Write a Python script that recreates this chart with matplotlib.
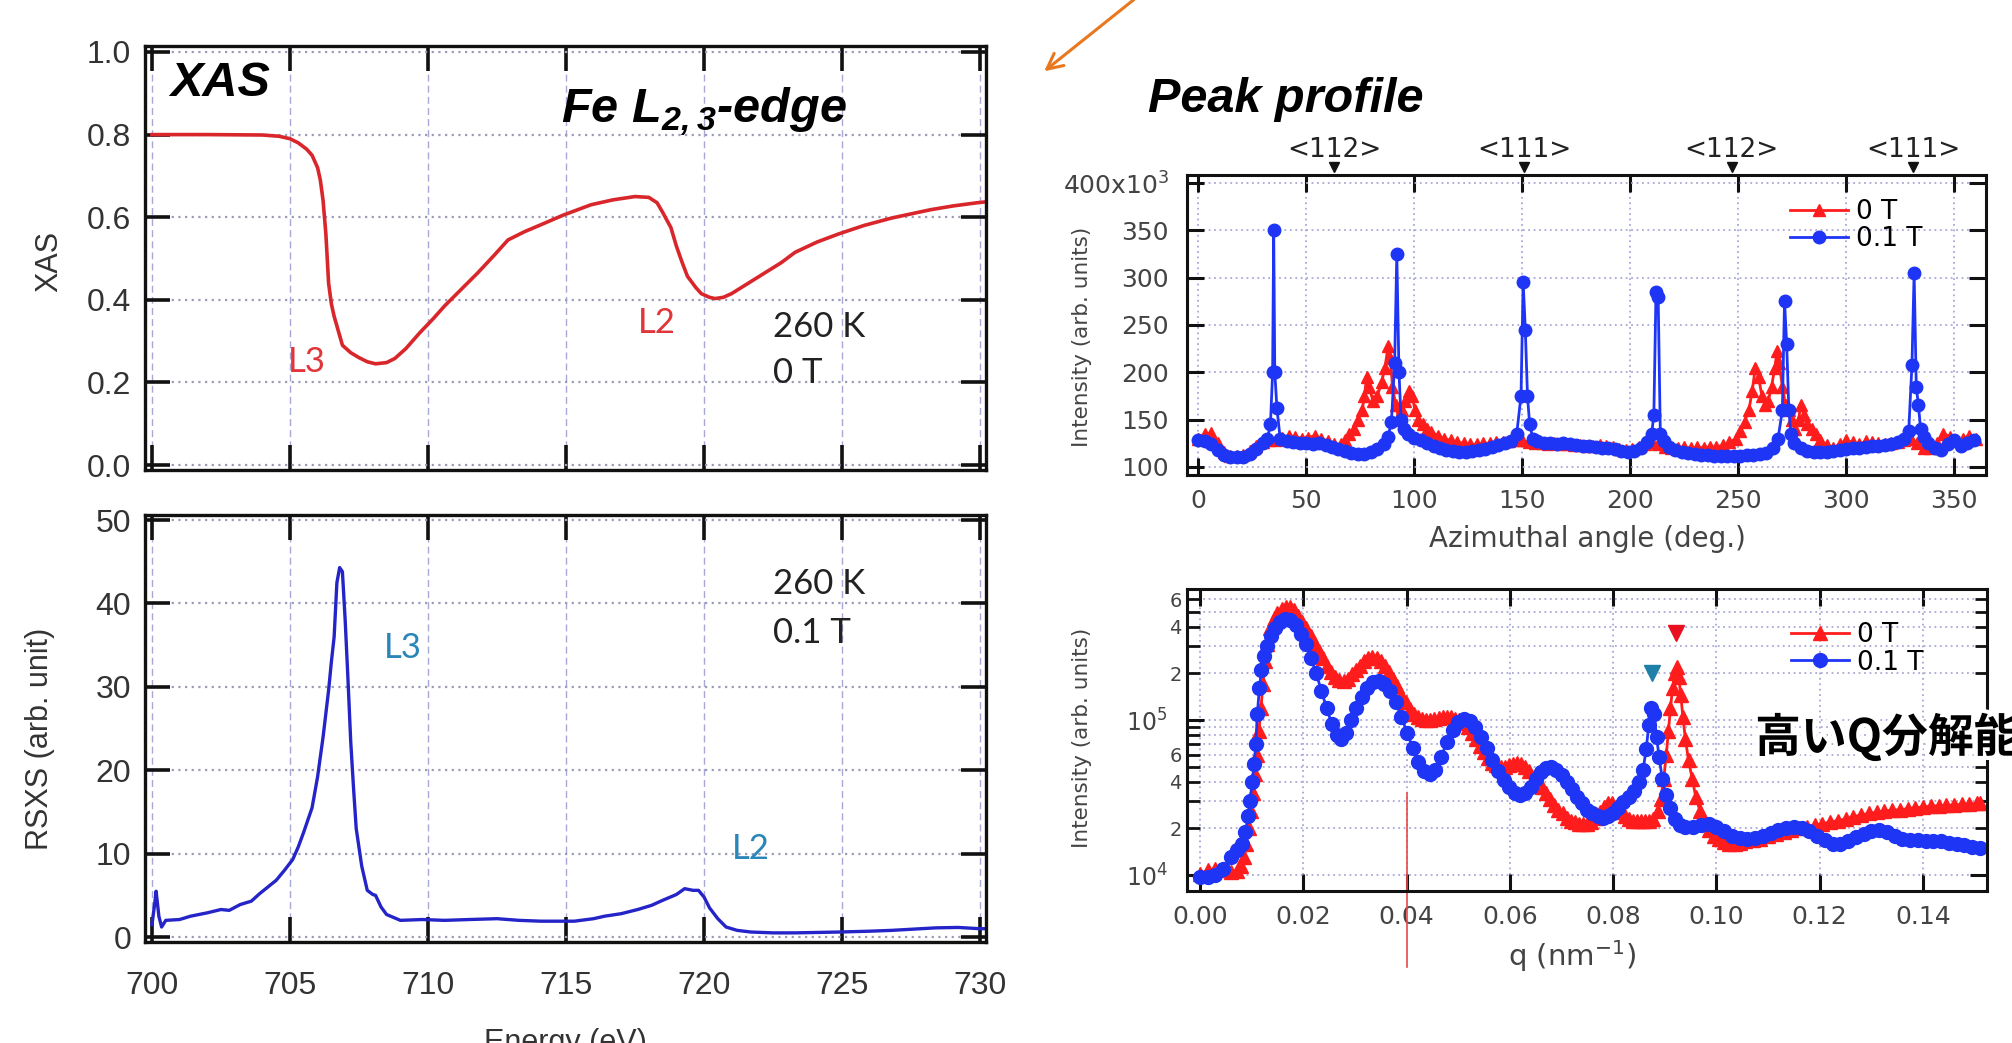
import matplotlib
matplotlib.use("Agg")
import matplotlib.pyplot as plt
import matplotlib.patheffects as pe
from matplotlib.ticker import FixedLocator, FixedFormatter

# ---------------- data ----------------
# XAS, Fe L2,3-edge, 260 K, 0 T
xas_energy = [700.0, 702.0, 704.0, 704.6, 705.0, 705.3, 705.6, 705.8, 706.0, 706.1, 706.2,
              706.3, 706.4, 706.5, 706.6, 706.9, 707.2, 707.5, 707.8, 708.1, 708.5, 708.8,
              709.2, 709.7, 710.2, 710.6, 711.2, 711.8, 712.4, 712.9, 713.5, 714.1, 714.9,
              715.9, 716.7, 717.5, 718.0, 718.3, 718.5, 718.8, 719.0, 719.2, 719.4, 719.7,
              719.9, 720.2, 720.4, 720.7, 721.0, 721.6, 722.2, 722.8, 723.3, 724.1, 724.9,
              725.8, 726.8, 727.5, 728.2, 729.0, 729.9, 730.2]
xas_value = [0.800, 0.800, 0.799, 0.796, 0.790, 0.780, 0.765, 0.750, 0.720, 0.690, 0.640,
             0.560, 0.440, 0.390, 0.360, 0.290, 0.272, 0.260, 0.250, 0.245, 0.248, 0.258,
             0.282, 0.320, 0.355, 0.385, 0.425, 0.465, 0.508, 0.545, 0.565, 0.582, 0.605,
             0.630, 0.642, 0.650, 0.648, 0.635, 0.612, 0.575, 0.530, 0.492, 0.457, 0.430,
             0.415, 0.406, 0.403, 0.406, 0.415, 0.440, 0.465, 0.490, 0.515, 0.540, 0.560,
             0.580, 0.598, 0.608, 0.618, 0.627, 0.635, 0.637]

# RSXS, 260 K, 0.1 T
rsxs_energy = [700.0, 700.1, 700.15, 700.25, 700.35, 700.5, 701.0, 701.4, 702.0, 702.5,
               702.8, 703.2, 703.6, 703.9, 704.2, 704.5, 704.8, 705.1, 705.3, 705.5,
               705.8, 706.0, 706.2, 706.4, 706.5, 706.6, 706.7, 706.8, 706.9, 707.0,
               707.1, 707.2, 707.3, 707.4, 707.6, 707.8, 708.0, 708.1, 708.3, 708.5,
               709.0, 709.8, 710.6, 711.5, 712.5, 713.3, 714.1, 715.3, 716.0, 716.4,
               717.0, 717.6, 718.1, 718.5, 719.0, 719.3, 719.6, 719.8, 720.0, 720.2,
               720.5, 720.8, 721.2, 721.7, 722.5, 723.3, 724.1, 724.9, 726.0, 726.8,
               727.6, 728.4, 729.2, 730.0, 730.2]
rsxs_value = [1.5, 4.0, 5.5, 2.5, 1.2, 2.0, 2.1, 2.5, 2.9, 3.3, 3.2, 3.9, 4.3, 5.2, 6.0,
              6.8, 8.0, 9.3, 10.8, 12.6, 15.5, 19.2, 24.0, 29.6, 33.0, 36.0, 42.5, 44.3,
              43.8, 38.0, 31.0, 23.5, 18.0, 13.0, 8.5, 5.6, 5.1, 5.0, 3.6, 2.7, 2.0, 2.1,
              2.0, 2.1, 2.2, 2.0, 1.9, 1.9, 2.2, 2.5, 2.8, 3.3, 3.8, 4.4, 5.1, 5.8, 5.6,
              5.6, 4.8, 3.5, 2.2, 1.2, 0.8, 0.6, 0.5, 0.5, 0.55, 0.6, 0.7, 0.8, 0.95, 1.1,
              1.15, 1.0, 1.0]

# Azimuthal peak profile (x10^3)
az_angle_0T = [0, 3, 6, 9, 12, 15, 18, 21, 24, 27, 30, 33, 36, 39, 42, 45, 48, 51, 54, 57,
               60, 63, 66, 68, 70, 72, 74, 76, 77, 78, 79, 81, 83, 85, 86.5, 88, 89, 90,
               91.5, 93, 94.5, 96, 97.5, 99, 100.5, 102, 104, 106, 108, 111, 114, 117,
               120, 123, 126, 129, 132, 135, 138, 141, 144, 147, 150, 153, 156, 159, 162,
               165, 168, 171, 174, 177, 180, 183, 186, 189, 192, 195, 198, 201, 204, 207,
               210, 213, 216, 219, 222, 225, 228, 231, 234, 237, 240, 243, 246, 249, 251,
               253, 255, 256.5, 258, 259.5, 261, 262.5, 264, 265.5, 267, 268, 269, 270.5,
               272, 273.5, 275, 276.5, 278, 279, 280.5, 282, 284, 286, 288, 291, 294, 297,
               300, 303, 306, 309, 312, 315, 318, 321, 324, 327, 330, 333, 336, 339, 342,
               345, 348, 351, 354, 357, 360]
az_int_0T = [130, 135, 136, 125, 116, 112, 112, 113, 117, 122, 126, 128, 128, 131, 133, 132,
             130, 131, 133, 130, 127, 124, 124, 128, 135, 140, 150, 160, 175, 195, 185, 170,
             175, 190, 205, 228, 215, 185, 165, 150, 160, 170, 180, 175, 160, 150, 145, 140,
             137, 133, 130, 128, 126, 125, 124, 124, 125, 125, 126, 126, 127, 128, 128, 126,
             125, 125, 124, 125, 124, 124, 123, 123, 122, 122, 123, 122, 121, 119, 118, 119,
             121, 124, 126, 124, 121, 120, 120, 121, 120, 121, 120, 121, 121, 123, 126, 130,
             138, 148, 160, 180, 205, 195, 175, 165, 170, 185, 205, 222, 210, 185, 165, 160,
             150, 140, 150, 165, 155, 145, 140, 135, 128, 123, 120, 124, 128, 126, 124, 127,
             126, 125, 124, 125, 126, 128, 130, 125, 120, 120, 125, 135, 132, 128, 130, 133,
             130]
az_angle_01T = [0, 3, 6, 9, 12, 15, 18, 21, 24, 27, 30, 32, 33.5, 34.5, 35, 35.5, 36.5, 38,
                41, 44, 47, 50, 53, 56, 59, 62, 65, 68, 71, 74, 77, 80, 83, 86, 88, 89.5,
                91, 92, 93, 94, 95.5, 97, 100, 103, 106, 109, 112, 115, 118, 121, 124, 127,
                130, 133, 136, 139, 142, 145, 147.5, 149.5, 150.5, 151.5, 152.5, 153.5, 155,
                157, 160, 163, 166, 169, 172, 175, 178, 181, 184, 187, 190, 193, 196, 199,
                202, 205, 208, 210, 211, 212, 213, 214, 215.5, 218, 221, 224, 227, 230, 233,
                236, 239, 242, 245, 248, 251, 254, 257, 260, 263, 266, 268.5, 270.5, 271.5,
                272.5, 273.5, 274.5, 276, 279, 282, 285, 288, 291, 294, 297, 300, 303, 306,
                309, 312, 315, 318, 321, 324, 327, 329, 330.5, 331.5, 332.5, 333.5, 334.5,
                336, 338, 341, 344, 347, 350, 353, 356, 359]
az_int_01T = [128, 127, 124, 118, 113, 110, 110, 111, 114, 119, 125, 129, 145, 200, 350, 200,
              162, 130, 127, 126, 125, 125, 124, 125, 123, 121, 119, 117, 115, 114, 114, 116,
              119, 124, 132, 148, 210, 325, 200, 150, 140, 135, 131, 128, 125, 122, 120, 118,
              117, 116, 116, 117, 118, 119, 121, 123, 125, 127, 135, 175, 295, 245, 175, 145,
              130, 127, 125, 125, 124, 125, 124, 123, 122, 122, 121, 120, 120, 119, 117, 116,
              117, 120, 126, 135, 155, 285, 280, 135, 127, 121, 118, 116, 115, 114, 113, 113,
              112, 112, 112, 112, 112, 113, 113, 114, 115, 120, 130, 160, 275, 230, 160, 135,
              125, 120, 117, 116, 116, 116, 117, 118, 119, 120, 120, 121, 122, 122, 123, 124,
              126, 130, 138, 208, 305, 185, 165, 140, 132, 125, 120, 118, 124, 128, 122, 125,
              128]
dir_labels = ["<112>", "<111>", "<112>", "<111>"]
dir_angles = [63, 151, 247, 331]

# q-profile (log scale)
q_0T = [0.000, 0.0015, 0.003, 0.0045, 0.006, 0.0072, 0.008, 0.0086, 0.009, 0.0094, 0.0098,
        0.0102, 0.0106, 0.011, 0.0114, 0.0118, 0.0122, 0.0126, 0.013, 0.0136, 0.0143, 0.015,
        0.0158, 0.0166, 0.0174, 0.0182, 0.019, 0.0198, 0.0206, 0.0214, 0.0222, 0.023,
        0.0238, 0.0246, 0.0254, 0.0262, 0.027, 0.0278, 0.0286, 0.0294, 0.0302, 0.031,
        0.0318, 0.0326, 0.0334, 0.0342, 0.035, 0.0358, 0.0366, 0.0374, 0.0382, 0.039,
        0.0398, 0.0406, 0.0414, 0.0422, 0.043, 0.0438, 0.0446, 0.0454, 0.0462, 0.047,
        0.0478, 0.0486, 0.0494, 0.0502, 0.051, 0.0518, 0.0526, 0.0534, 0.0542, 0.055,
        0.0558, 0.0566, 0.0574, 0.0582, 0.059, 0.0598, 0.0606, 0.0614, 0.0622, 0.063,
        0.0638, 0.0646, 0.0654, 0.0662, 0.067, 0.0678, 0.0686, 0.0694, 0.0702, 0.071,
        0.0718, 0.0726, 0.0734, 0.0742, 0.075, 0.0758, 0.0766, 0.0774, 0.0782, 0.079,
        0.0798, 0.0806, 0.0814, 0.0822, 0.083, 0.0838, 0.0846, 0.0854, 0.0862, 0.087,
        0.0878, 0.0886, 0.0892, 0.0898, 0.0903, 0.0907, 0.0911, 0.0915, 0.0919, 0.0923,
        0.0927, 0.0931, 0.0935, 0.094, 0.0946, 0.0953, 0.096, 0.0968, 0.0976, 0.0985,
        0.0995, 0.1005, 0.1015, 0.1025, 0.1035, 0.1045, 0.1055, 0.107, 0.1085, 0.11,
        0.1115, 0.113, 0.1145, 0.116, 0.1175, 0.119, 0.1205, 0.122, 0.1235, 0.125, 0.1265,
        0.128, 0.1295, 0.131, 0.1325, 0.134, 0.1355, 0.137, 0.1385, 0.14, 0.1415, 0.143,
        0.1445, 0.146, 0.1475, 0.149, 0.1505, 0.151]
i_0T = [1.02e4, 1.08e4, 1.1e4, 1.08e4, 1.05e4, 1.07e4, 1.15e4, 1.3e4, 1.6e4, 2.0e4, 2.6e4,
        3.4e4, 4.5e4, 6.0e4, 8.5e4, 1.2e5, 1.7e5, 2.4e5, 3.1e5, 3.9e5, 4.5e5, 4.9e5, 5.2e5,
        5.4e5, 5.4e5, 5.1e5, 4.7e5, 4.3e5, 3.9e5, 3.5e5, 3.1e5, 2.8e5, 2.5e5, 2.25e5,
        2.05e5, 1.9e5, 1.82e5, 1.8e5, 1.85e5, 1.97e5, 2.1e5, 2.25e5, 2.4e5, 2.5e5, 2.55e5,
        2.5e5, 2.4e5, 2.25e5, 2.05e5, 1.85e5, 1.65e5, 1.45e5, 1.3e5, 1.18e5, 1.1e5, 1.05e5,
        1.02e5, 1.0e5, 1.0e5, 1.01e5, 1.03e5, 1.05e5, 1.05e5, 1.04e5, 1.02e5, 1.0e5, 9.6e4,
        9.0e4, 8.3e4, 7.5e4, 6.8e4, 6.2e4, 5.7e4, 5.3e4, 5.1e4, 5.0e4, 5.0e4, 5.1e4, 5.2e4,
        5.3e4, 5.2e4, 5.0e4, 4.7e4, 4.3e4, 4.0e4, 3.7e4, 3.4e4, 3.1e4, 2.85e4, 2.65e4,
        2.5e4, 2.35e4, 2.25e4, 2.2e4, 2.15e4, 2.15e4, 2.15e4, 2.2e4, 2.35e4, 2.55e4,
        2.75e4, 2.9e4, 2.9e4, 2.75e4, 2.55e4, 2.4e4, 2.3e4, 2.25e4, 2.25e4, 2.25e4, 2.25e4,
        2.25e4, 2.3e4, 2.6e4, 3.1e4, 4.2e4, 6.0e4, 8.5e4, 1.2e5, 1.6e5, 2.0e5, 2.2e5,
        1.9e5, 1.45e5, 1.05e5, 7.5e4, 5.5e4, 4.2e4, 3.2e4, 2.6e4, 2.2e4, 1.95e4, 1.78e4,
        1.7e4, 1.63e4, 1.6e4, 1.6e4, 1.62e4, 1.65e4, 1.68e4, 1.72e4, 1.78e4, 1.84e4, 1.9e4,
        1.95e4, 2.0e4, 2.05e4, 2.1e4, 2.15e4, 2.2e4, 2.25e4, 2.3e4, 2.38e4, 2.45e4, 2.5e4,
        2.55e4, 2.6e4, 2.62e4, 2.65e4, 2.68e4, 2.72e4, 2.75e4, 2.78e4, 2.8e4, 2.82e4,
        2.84e4, 2.86e4, 2.88e4, 2.9e4, 2.9e4]
q_01T = [0.000, 0.0015, 0.003, 0.0045, 0.006, 0.0072, 0.0082, 0.0088, 0.0093, 0.0097,
         0.0101, 0.0105, 0.0108, 0.0111, 0.0115, 0.0119, 0.0124, 0.013, 0.0137, 0.0145,
         0.0155, 0.0165, 0.0175, 0.0185, 0.0195, 0.0205, 0.0215, 0.0225, 0.0235, 0.0245,
         0.0255, 0.0265, 0.0273, 0.0282, 0.0292, 0.0302, 0.0313, 0.0324, 0.0335, 0.0346,
         0.0357, 0.0368, 0.0379, 0.039, 0.0401, 0.0412, 0.0423, 0.0434, 0.0445, 0.0456,
         0.0467, 0.0478, 0.0489, 0.050, 0.0511, 0.0522, 0.0533, 0.0544, 0.0555, 0.0566,
         0.0577, 0.0588, 0.0599, 0.061, 0.062, 0.063, 0.064, 0.065, 0.066, 0.067, 0.068,
         0.069, 0.070, 0.071, 0.072, 0.073, 0.074, 0.075, 0.076, 0.077, 0.078, 0.079, 0.080,
         0.081, 0.082, 0.083, 0.084, 0.085, 0.0858, 0.0864, 0.0869, 0.0874, 0.0879, 0.0884,
         0.0889, 0.0895, 0.0902, 0.091, 0.092, 0.093, 0.094, 0.0955, 0.097, 0.0985, 0.100,
         0.1015, 0.103, 0.1045, 0.106, 0.1075, 0.109, 0.1105, 0.112, 0.1135, 0.115, 0.1165,
         0.118, 0.1195, 0.121, 0.1225, 0.124, 0.1255, 0.127, 0.1285, 0.130, 0.1315, 0.133,
         0.1345, 0.136, 0.1375, 0.139, 0.1405, 0.142, 0.1435, 0.145, 0.1465, 0.148, 0.1495,
         0.151]
i_01T = [9.8e3, 9.8e3, 1.0e4, 1.1e4, 1.3e4, 1.45e4, 1.6e4, 1.9e4, 2.4e4, 3.0e4, 4.0e4,
         5.2e4, 7.0e4, 1.1e5, 1.6e5, 2.1e5, 2.6e5, 3.0e5, 3.5e5, 3.9e5, 4.3e5, 4.5e5, 4.4e5,
         4.1e5, 3.6e5, 3.1e5, 2.5e5, 2.0e5, 1.55e5, 1.2e5, 9.5e4, 8.0e4, 7.5e4, 8.3e4,
         1.0e5, 1.2e5, 1.4e5, 1.62e5, 1.77e5, 1.8e5, 1.72e5, 1.55e5, 1.3e5, 1.05e5, 8.3e4,
         6.6e4, 5.4e4, 4.7e4, 4.5e4, 4.8e4, 5.8e4, 7.2e4, 8.6e4, 9.7e4, 1.01e5, 9.8e4,
         9.0e4, 7.8e4, 6.6e4, 5.5e4, 4.7e4, 4.1e4, 3.7e4, 3.4e4, 3.3e4, 3.4e4, 3.7e4, 4.2e4,
         4.6e4, 4.9e4, 5.0e4, 4.8e4, 4.4e4, 4.0e4, 3.6e4, 3.2e4, 2.9e4, 2.65e4, 2.5e4,
         2.4e4, 2.35e4, 2.4e4, 2.5e4, 2.7e4, 2.95e4, 3.2e4, 3.5e4, 4.0e4, 4.8e4, 6.5e4,
         9.3e4, 1.2e5, 1.1e5, 7.8e4, 5.8e4, 4.2e4, 3.3e4, 2.7e4, 2.3e4, 2.1e4, 2.05e4,
         2.05e4, 2.1e4, 2.15e4, 2.05e4, 1.92e4, 1.8e4, 1.74e4, 1.72e4, 1.74e4, 1.8e4,
         1.88e4, 1.95e4, 2.0e4, 2.03e4, 2.0e4, 1.92e4, 1.8e4, 1.68e4, 1.6e4, 1.6e4, 1.65e4,
         1.75e4, 1.85e4, 1.93e4, 1.95e4, 1.9e4, 1.8e4, 1.72e4, 1.68e4, 1.68e4, 1.67e4,
         1.65e4, 1.65e4, 1.62e4, 1.6e4, 1.57e4, 1.53e4, 1.5e4]
peak_q = [0.0875, 0.0921]
peak_i = [2.0e5, 3.65e5]
marker_q = 0.04

energy_ticks = [700, 705, 710, 715, 720, 725, 730]
xas_ticks = [0.0, 0.2, 0.4, 0.6, 0.8, 1.0]
rsxs_ticks = [0, 10, 20, 30, 40, 50]
az_xticks = [0, 50, 100, 150, 200, 250, 300, 350]
az_yticks = [100, 150, 200, 250, 300, 350, 400]
az_ylabels = ["100", "150", "200", "250", "300", "350", "400x10$^3$"]
q_ticks = [0.00, 0.02, 0.04, 0.06, 0.08, 0.10, 0.12, 0.14]
q_major = [1e4, 1e5]
q_major_labels = ["10$^4$", "10$^5$"]
q_minor = [2e4, 3e4, 4e4, 5e4, 6e4, 7e4, 8e4, 9e4, 2e5, 3e5, 4e5, 5e5, 6e5, 7e5]
q_minor_labels = ["2", "", "4", "", "6", "", "", "", "2", "", "4", "", "6", ""]

# ---------------- style ----------------
ARIAL = "Liberation Sans"
RED = "#ff1c1c"
BLUE = "#1f35f5"

fig = plt.figure(figsize=(20.12, 10.43), dpi=100)
ax1 = fig.add_axes([0.0721, 0.5494, 0.418, 0.4065])
ax2 = fig.add_axes([0.0721, 0.0968, 0.418, 0.4094])
ax3 = fig.add_axes([0.590, 0.5446, 0.3971, 0.2876])
ax4 = fig.add_axes([0.590, 0.1457, 0.3976, 0.2895])


def style_left(ax):
    for s in ax.spines.values():
        s.set_linewidth(2.4)
        s.set_color("#111111")
    ax.tick_params(which="major", direction="in", length=18, width=2.6, top=True,
                   right=True, color="#111111", labelcolor="#333333", labelsize=23,
                   labelfontfamily=ARIAL, pad=10)
    ax.tick_params(axis="x", pad=21)
    ax.xaxis.grid(True, linestyle=(0, (5, 3)), color="#a8a8d6", lw=1.0)
    ax.yaxis.grid(True, linestyle=(0, (1, 2)), color="#9c9cb8", lw=1.6)
    ax.set_axisbelow(True)


def style_right(ax):
    for s in ax.spines.values():
        s.set_linewidth(2.2)
        s.set_color("#111111")
    ax.tick_params(which="major", direction="in", length=12, width=2.2, top=True,
                   right=True, color="#111111", labelcolor="#444444", labelsize=18,
                   pad=10)
    ax.tick_params(axis="y", which="major", pad=13)
    ax.set_axisbelow(True)


# ---- XAS ----
ax1.plot(xas_energy, xas_value, color="#d8262b", lw=2.6)
ax1.set_xlim(699.75, 730.22)
ax1.set_ylim(-0.012, 1.0145)
ax1.set_xticks(energy_ticks)
ax1.set_yticks(xas_ticks)
ax1.set_yticklabels([f"{v:.1f}" for v in xas_ticks])
style_left(ax1)
ax1.tick_params(labelbottom=False)
txt = dict(family="Lato", fontsize=25)
ax1.text(705.6, 0.25, "L3", color="#e0353a", ha="center", va="center", **txt)
ax1.text(718.3, 0.345, "L2", color="#e0353a", ha="center", va="center", **txt)
ax1.text(722.5, 0.335, "260 K", color="#222222", ha="left", va="center", **txt)
ax1.text(722.5, 0.222, "0 T", color="#222222", ha="left", va="center", **txt)

# ---- RSXS ----
ax2.plot(rsxs_energy, rsxs_value, color="#2424c8", lw=2.4)
ax2.set_xlim(699.75, 730.22)
ax2.set_ylim(-0.6, 50.6)
ax2.set_xticks(energy_ticks)
ax2.set_yticks(rsxs_ticks)
style_left(ax2)
ax2.text(709.1, 34.7, "L3", color="#2a86b8", ha="center", va="center", **txt)
ax2.text(721.7, 10.6, "L2", color="#2a86b8", ha="center", va="center", **txt)
ax2.text(722.5, 42.3, "260 K", color="#222222", ha="left", va="center", **txt)
ax2.text(722.5, 36.4, "0.1 T", color="#222222", ha="left", va="center", **txt)

# ---- azimuthal profile ----
ax3.plot(az_angle_0T, az_int_0T, color=RED, lw=2, marker="^", ms=9, mec=RED, label="0 T")
ax3.plot(az_angle_01T, az_int_01T, color=BLUE, lw=2, marker="o", ms=9, mec=BLUE,
         label="0.1 T")
ax3.set_xlim(-5.1, 364.8)
ax3.set_ylim(91.5, 408.5)
ax3.set_xticks(az_xticks)
ax3.set_yticks(az_yticks)
ax3.set_yticklabels(az_ylabels)
style_right(ax3)
ax3.grid(True, linestyle=(0, (1, 2)), color="#a8a8d8", lw=1.3)
ax3.legend(loc="upper left", bbox_to_anchor=(0.755, 0.92), frameon=False, fontsize=19,
           handlelength=2.2, handletextpad=0.3, labelspacing=0.05, borderpad=0,
           borderaxespad=0)
top = ax3.get_xaxis_transform()
for ang, lab in zip(dir_angles, dir_labels):
    ax3.text(ang, 1.083, lab, transform=top, ha="center", va="center", fontsize=19,
             color="#222222")
ax3.plot(dir_angles, [1.027] * len(dir_angles), "v", color="#111111", ms=7,
         transform=top, clip_on=False)

# ---- q profile ----
ax4.plot(q_0T, i_0T, color=RED, lw=2, marker="^", ms=10, mec=RED, label="0 T")
ax4.plot(q_01T, i_01T, color=BLUE, lw=2, marker="o", ms=10, mec=BLUE, label="0.1 T")
ax4.plot(peak_q[:1], peak_i[:1], "v", color="#1e7fa8", ms=12)
ax4.plot(peak_q[1:], peak_i[1:], "v", color="#e81020", ms=12)
ax4.set_yscale("log")
ax4.set_xlim(-0.0025, 0.1524)
ax4.set_ylim(7.9e3, 7.0e5)
ax4.set_xticks(q_ticks)
ax4.set_xticklabels([f"{v:.2f}" for v in q_ticks])
ax4.yaxis.set_major_locator(FixedLocator(q_major))
ax4.yaxis.set_major_formatter(FixedFormatter(q_major_labels))
ax4.yaxis.set_minor_locator(FixedLocator(q_minor))
ax4.yaxis.set_minor_formatter(FixedFormatter(q_minor_labels))
style_right(ax4)
ax4.tick_params(axis="y", which="major", labelsize=17, pad=14)
ax4.tick_params(axis="y", which="minor", direction="in", length=9, width=2.0, right=True,
                color="#111111", labelcolor="#444444", labelsize=14, pad=4)
ax4.xaxis.grid(True, linestyle=(0, (1, 2)), color="#a8a8d8", lw=1.3)
ax4.yaxis.grid(True, which="both", linestyle=(0, (1, 2)), color="#a8a8d8", lw=1.3)
ax4.legend(loc="upper left", bbox_to_anchor=(0.755, 0.89), frameon=False, fontsize=19,
           handlelength=2.2, handletextpad=0.3, labelspacing=0.05, borderpad=0,
           borderaxespad=0)
ax4.plot([marker_q, marker_q], [0.325, -0.25], transform=ax4.get_xaxis_transform(),
         color="#e84848", lw=1.2, clip_on=False)

# ---- axis labels ----
fig.text(0.0244, 0.749, "XAS", rotation=90, ha="center", va="center", fontsize=22,
         color="#333333", family=ARIAL)
fig.text(0.0199, 0.2915, "RSXS (arb. unit)", rotation=90, ha="center", va="center",
         fontsize=22, color="#333333", family=ARIAL)
fig.text(0.2808, 0.0144, "Energy (eV)", ha="center", va="top", fontsize=22,
         color="#333333", family=ARIAL)
fig.text(0.5378, 0.677, "Intensity (arb. units)", rotation=90, ha="center", va="center",
         fontsize=15.5, color="#444444")
fig.text(0.7888, 0.4832, "Azimuthal angle (deg.)", ha="center", va="center",
         fontsize=20, color="#444444")
fig.text(0.5378, 0.2924, "Intensity (arb. units)", rotation=90, ha="center", va="center",
         fontsize=15.5, color="#444444")
fig.text(0.7813, 0.0834, "q (nm$^{-1}$)", ha="center", va="center", fontsize=21,
         color="#444444")

# ---- headline annotations ----
head = dict(family=ARIAL, fontweight="bold", fontstyle="italic", color="black",
            va="center", ha="left")
fig.text(0.0845, 0.920, "XAS", fontsize=35, **head)
fig.text(0.2788, 0.893, r"Fe L$_\mathregular{2,3}$-edge", fontsize=35, **head)
fig.text(0.5706, 0.905, "Peak profile", fontsize=35, **head)
fig.text(0.8723, 0.2924, "高いQ分解能", fontsize=33, fontweight="bold",
         family=["Noto Sans CJK JP", "DejaVu Sans"], va="center", ha="left",
         color="black", path_effects=[pe.withStroke(linewidth=6, foreground="white")])

fig.patches.append(matplotlib.patches.FancyArrowPatch(
    (0.5646, 1.002), (0.5179, 0.930), transform=fig.transFigure, arrowstyle="->",
    mutation_scale=28, color="#e8771e", lw=2.2))

fig.savefig("out.png", dpi=100)
